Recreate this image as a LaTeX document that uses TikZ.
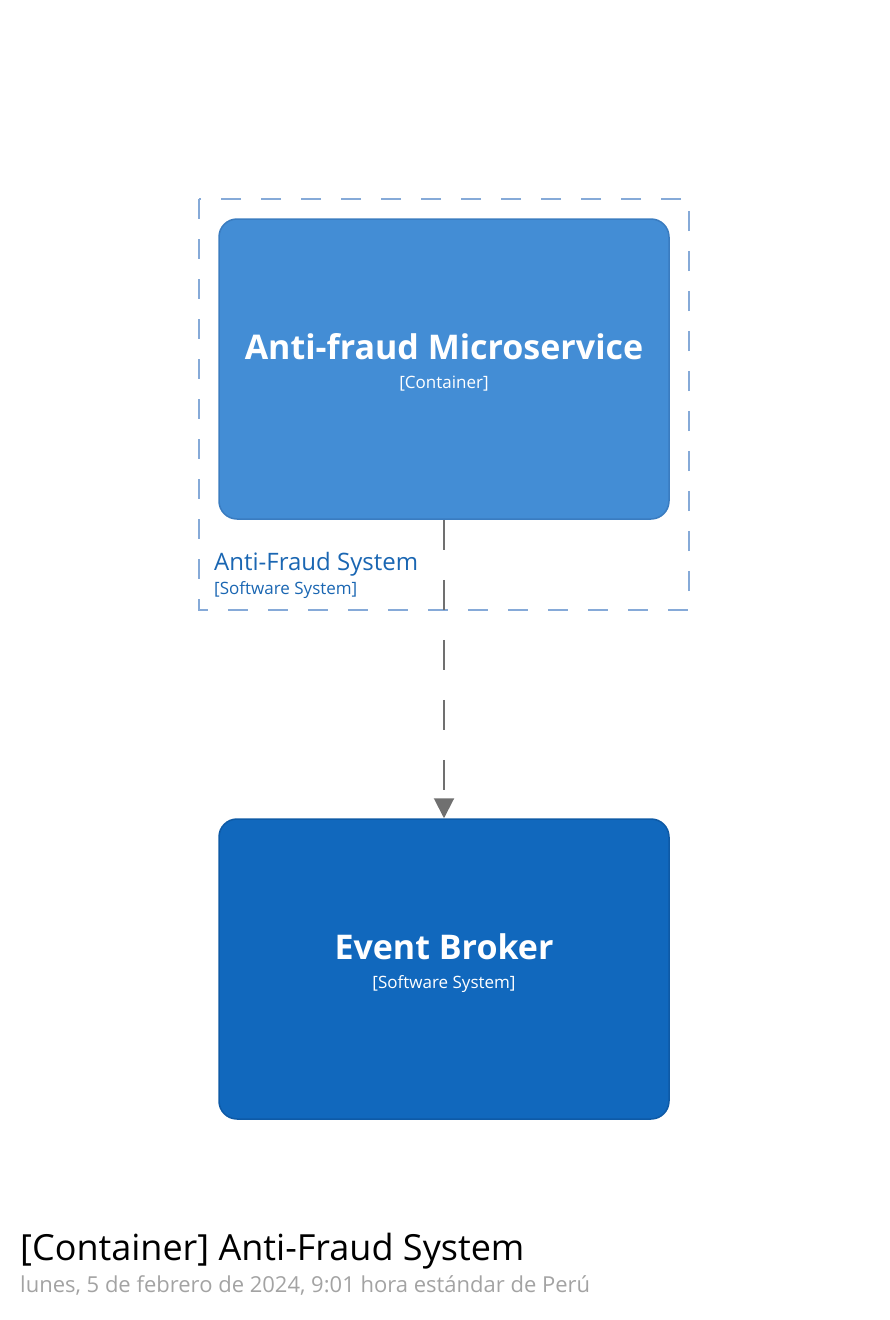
\documentclass[tikz,border=0pt]{standalone}
\usepackage{fontspec}
\setmainfont{Open Sans}
\usetikzlibrary{positioning,arrows.meta}

\definecolor{contfill}{HTML}{438DD5}
\definecolor{contline}{HTML}{3A7CC0}
\definecolor{sysfill}{HTML}{1168BD}
\definecolor{sysline}{HTML}{0E5AA6}
\definecolor{bndline}{HTML}{86AAD8}
\definecolor{bndtext}{HTML}{1A66B2}
\definecolor{relline}{HTML}{707070}
\definecolor{datetext}{HTML}{A3A3A3}

\begin{document}
\begin{tikzpicture}[x=1pt, y=-1pt,
	elembox/.style={draw, line width=1.5pt, rounded corners=18pt,
		minimum width=450pt, minimum height=300pt},
	elemname/.style={text=white, font=\fontsize{34}{40}\selectfont\bfseries, inner sep=0pt},
	elemtype/.style={text=white, font=\fontsize{17}{20}\selectfont, inner sep=0pt},
	rel/.style={draw=relline, line width=2pt, dash pattern=on 30pt off 30pt,
		-{Triangle[width=20pt,length=20pt]}}]

	% page
	\useasboundingbox (0,0) rectangle (890,1320);

	% software system boundary
	\draw[bndline, line width=2pt, dash pattern=on 20pt off 20pt]
		(199,199) rectangle (689,610);
	\node[anchor=base west, inner sep=0pt, text=bndtext,
		font=\fontsize{24}{28}\selectfont] (bndname) at (214,570) {Anti-Fraud System};
	\node[anchor=base west, inner sep=0pt, text=bndtext,
		font=\fontsize{17}{20}\selectfont] (bndtype) at (214,594) {[Software System]};

	% elements
	\node[elembox, fill=contfill, draw=contline] (ams) at (444,369) {};
	\node[elemname, anchor=base] (amsname) at (444,359) {Anti-fraud Microservice};
	\node[elemtype, anchor=base] (amstype) at (444,388) {[Container]};

	\node[elembox, fill=sysfill, draw=sysline] (eb) at (444,969) {};
	\node[elemname, anchor=base] (ebname) at (444,959) {Event Broker};
	\node[elemtype, anchor=base] (ebtype) at (444,988) {[Software System]};

	% relationship
	\draw[rel] (ams.south) -- (eb.north);

	% title
	\node[anchor=base west, inner sep=0pt,
		font=\fontsize{36}{42}\selectfont] (title) at (20,1260) {[Container] Anti-Fraud System};
	\node[anchor=base west, inner sep=0pt, text=datetext,
		font=\fontsize{22}{26}\selectfont] (date) at (20,1292)
		{lunes, 5 de febrero de 2024, 9:01 hora estándar de Perú};

\end{tikzpicture}
\end{document}
